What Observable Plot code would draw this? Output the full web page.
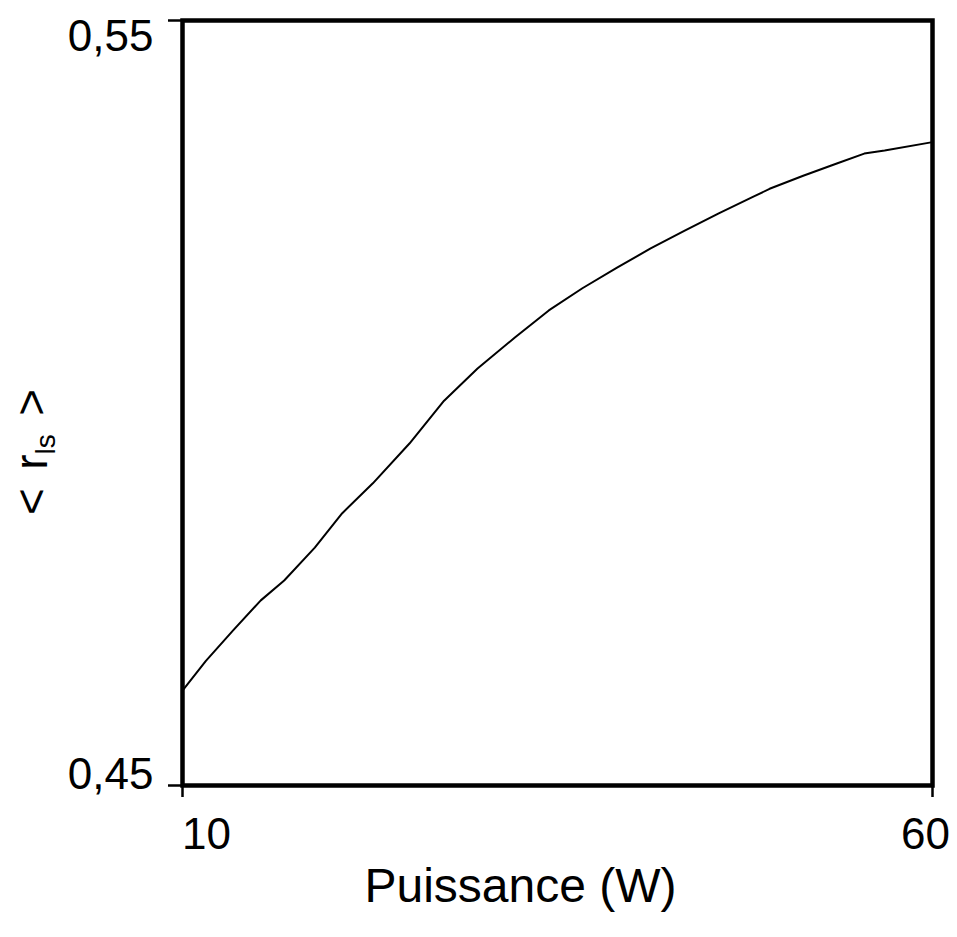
<!DOCTYPE html>
<html>
<head>
<meta charset="utf-8">
<script src="https://cdn.jsdelivr.net/npm/d3@7"></script>
<script src="https://cdn.jsdelivr.net/npm/@observablehq/plot@0.6"></script>
<style>
  html, body { margin: 0; padding: 0; background: #fff; }
  #chart svg { display: block; }
</style>
</head>
<body>
<div id="chart"></div>
<script>
const puissance = [10, 11.56, 13.39, 15.22, 16.78, 18.82, 20.65, 22.69, 25.13, 27.44, 29.67, 32.18, 34.42, 36.66, 38.97, 41.21, 43.45, 45.75, 47.99, 49.14, 51.38, 53.62, 55.45, 56.81, 60];
const rls = [0.4624, 0.4663, 0.4703, 0.4742, 0.4768, 0.4811, 0.4856, 0.4895, 0.4947, 0.5003, 0.5045, 0.5086, 0.5121, 0.5150, 0.5177, 0.5202, 0.5225, 0.5248, 0.5269, 0.5280, 0.5297, 0.5313, 0.5326, 0.5330, 0.5341];
const xTicks = [10, 60];
const yTicks = [0.45, 0.55];
const xLabel = "Puissance (W)";

const data = puissance.map((p, i) => ({p, r: rls[i]}));
const fmt = d => String(d).replace(".", ",");
const font = "Liberation Sans, Arial, sans-serif";

const chart = Plot.plot({
  width: 957,
  height: 937,
  marginLeft: 182,
  marginRight: 25,
  marginTop: 20,
  marginBottom: 152,
  style: {fontFamily: font, fontSize: "44px", color: "#000", background: "#fff"},
  x: {domain: [10, 60], label: null},
  y: {domain: [0.45, 0.55], label: null},
  marks: [
    Plot.line(data, {x: d => d.p, y: d => d.r, stroke: "#000", strokeWidth: 2}),
    Plot.frame({stroke: "#000", strokeWidth: 4.5}),
    Plot.axisY(yTicks, {tickSize: 14, fill: "none", stroke: "#000", strokeWidth: 2.5, label: null, tickFormat: () => ""}),
    Plot.axisY([0.55], {tickSize: 0, tickPadding: 29, dy: 16, fontSize: 44, tickFormat: fmt, label: null}),
    Plot.axisY([0.45], {tickSize: 0, tickPadding: 29, dy: -11, fontSize: 44, tickFormat: fmt, label: null}),
    Plot.axisX(xTicks, {tickSize: 12, fill: "none", stroke: "#000", strokeWidth: 2.5, label: null, tickFormat: () => ""}),
    Plot.axisX([10], {tickSize: 0, tickPadding: 32, dx: 24, fontSize: 44, tickFormat: d => String(d), label: null}),
    Plot.axisX([60], {tickSize: 0, tickPadding: 32, dx: -7, fontSize: 44, tickFormat: d => String(d), label: null}),
    Plot.text([xLabel], {frameAnchor: "bottom", text: d => d, dy: 116, dx: -37, fontSize: 48, fill: "#000", letterSpacing: "1px"})
  ]
});

// Y-axis label with subscript: <r_ls>
const svg = d3.select(chart);
const yl = svg.append("text")
  .attr("transform", "translate(47,452) rotate(-90)")
  .attr("text-anchor", "middle")
  .attr("font-family", font)
  .attr("font-size", 46)
  .attr("fill", "#000");
yl.append("tspan").text("<\u2009\u2009r");
yl.append("tspan").attr("dy", 8).attr("font-size", 28).text("ls");
yl.append("tspan").attr("dy", -8).text("\u2009\u2009>");

document.getElementById("chart").appendChild(chart);
</script>
</body>
</html>
